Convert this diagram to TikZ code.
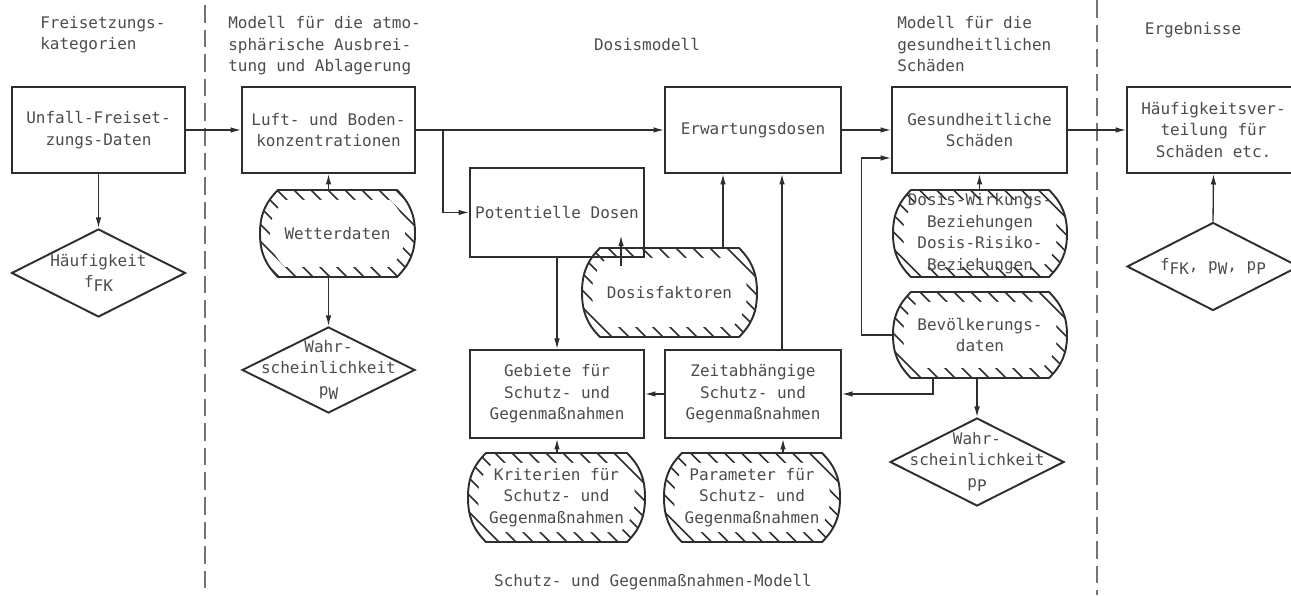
\documentclass[tikz,border=0pt]{standalone}
\usepackage{fontspec}
\newfontfamily\tw{DejaVu Sans Mono}
\usetikzlibrary{shapes.geometric,arrows.meta,calc}
\definecolor{lc}{gray}{0.18}
\definecolor{tc}{gray}{0.30}
\newcommand\sbs[1]{\raisebox{-0.5ex}{#1}}
\tikzset{
 hl/.style={draw=lc, line width=0.9pt},
 ol/.style={draw=lc, line width=1.1pt},
 pics/dshape/.style n args={2}{code={
  \begin{scope}
   \clip ({-#1+18},{#2}) -- ({#1-18},{#2}) to[out=-45,in=90] ({#1},0) to[out=-90,in=45] ({#1-18},{-#2}) -- ({-#1+18},{-#2}) to[out=135,in=-90] ({-#1},0) to[out=90,in=-135] cycle;
   \foreach \c in {-153,-136,...,153} \draw[hl] ({\c-120},120) -- ({\c+120},-120);
   \fill[white] ({-#1+25},{#2-10}) -- ({#1-25},{#2-10}) to[out=-45,in=90] ({#1-10},0) to[out=-90,in=45] ({#1-25},{-#2+10}) -- ({-#1+25},{-#2+10}) to[out=135,in=-90] ({-#1+10},0) to[out=90,in=-135] cycle;
  \end{scope}
  \draw[ol] ({-#1+18},{#2}) -- ({#1-18},{#2}) to[out=-45,in=90] ({#1},0) to[out=-90,in=45] ({#1-18},{-#2}) -- ({-#1+18},{-#2}) to[out=135,in=-90] ({-#1},0) to[out=90,in=-135] cycle;
 }}
}
\begin{document}
\begin{tikzpicture}[x=0.02cm,y=0.02cm,
 txt/.style={font={\tw\fontsize{9.1pt}{12.2pt}\selectfont}, text=tc},
 box/.style={rectangle, draw=lc, line width=1.1pt, inner sep=0pt, align=center, txt},
 dnode/.style={rectangle, inner sep=0pt, align=center, txt},
 dia/.style={diamond, draw=lc, line width=1.1pt, inner sep=0pt},
 hdr/.style={txt, inner sep=0pt, align=left},
 ln/.style={draw=lc, line width=0.75pt},
 arr/.style={ln, -{Latex[length=6pt,width=3.2pt]}},
 sep/.style={draw=black!55, line width=0.6pt, dash pattern=on 10pt off 4pt},
 lab/.style={txt, align=center}
]
\useasboundingbox (0,0) rectangle (1291,595);
\clip (0,0) rectangle (1291,595);

% separators
\draw[sep] (205,590) -- (205,0);
\draw[sep] (1097,595) -- (1097,0);

% headers
\node[hdr, anchor=north west] (h1) at (40,579) {Freisetzungs-\\kategorien};
\node[hdr, anchor=north west] (h2) at (228,579) {Modell für die atmo-\\sphärische Ausbrei-\\tung und Ablagerung};
\node[txt] (h3) at (647,550) {Dosismodell};
\node[hdr, anchor=north west] (h4) at (897,579) {Modell für die\\gesundheitlichen\\Schäden};
\node[txt] (h5) at (1193,565) {Ergebnisse};
\node[txt] (h6) at (653,13) {Schutz- und Gegenmaßnahmen-Modell};

% hatched data shapes
\pic at (337.5,361.5) {dshape={77.5}{43.5}};
\pic at (669.5,302.5) {dshape={87.5}{44.5}};
\pic at (980,361.5) {dshape={87}{43.5}};
\pic at (980,260) {dshape={87}{43}};
\pic at (556.5,97.5) {dshape={88.5}{44.5}};
\pic at (752,97.5) {dshape={88}{44.5}};

\node[dnode, minimum width=3.10cm, minimum height=1.74cm] (wet) at (337.5,361.5) {Wetterdaten};
\node[dnode, minimum width=3.50cm, minimum height=1.78cm] (dosf) at (669.5,302.5) {Dosisfaktoren};
\node[dnode, minimum width=3.48cm, minimum height=1.74cm] (dw) at (980,361.5) {Dosis-Wirkungs-\\Beziehungen\\Dosis-Risiko-\\Beziehungen};
\node[dnode, minimum width=3.48cm, minimum height=1.72cm] (bev) at (980,260) {Bevölkerungs-\\daten};
\node[dnode, minimum width=3.54cm, minimum height=1.78cm] (krit) at (556.5,97.5) {Kriterien für\\Schutz- und\\Gegenmaßnahmen};
\node[dnode, minimum width=3.52cm, minimum height=1.78cm] (par) at (752,97.5) {Parameter für\\Schutz- und\\Gegenmaßnahmen};

% boxes
\node[box, minimum width=3.46cm, minimum height=1.72cm] (unf) at (98.5,465) {Unfall-Freiset-\\zungs-Daten};
\node[box, minimum width=3.46cm, minimum height=1.72cm] (luft) at (328.5,465) {Luft- und Boden-\\konzentrationen};
\node[box, minimum width=3.52cm, minimum height=1.72cm] (erw) at (753,465) {Erwartungsdosen};
\node[box, minimum width=3.50cm, minimum height=1.72cm] (ges) at (979.5,465) {Gesundheitliche\\Schäden};
\node[box, minimum width=3.46cm, minimum height=1.72cm] (hv) at (1213.5,465) {Häufigkeitsver-\\teilung für\\Schäden etc.};
\node[box, minimum width=3.48cm, minimum height=1.78cm] (pot) at (557,382.5) {Potentielle Dosen};
\node[box, minimum width=3.48cm, minimum height=1.76cm] (geb) at (557,201) {Gebiete für\\Schutz- und\\Gegenmaßnahmen};
\node[box, minimum width=3.52cm, minimum height=1.76cm] (zeit) at (753,201) {Zeitabhängige\\Schutz- und\\Gegenmaßnahmen};

% diamonds
\node[dia, minimum width=3.48cm, minimum height=1.76cm, label={[lab]center:{Häufigkeit\\f\sbs{FK}}}] (dfk) at (98.5,322) {};
\node[dia, minimum width=3.46cm, minimum height=1.72cm, label={[lab]center:{Wahr-\\scheinlichkeit\\p\sbs{W}}}] (dpw) at (328.5,225) {};
\node[dia, minimum width=3.48cm, minimum height=1.76cm, label={[lab]center:{Wahr-\\scheinlichkeit\\p\sbs{P}}}] (dpp) at (977,133) {};
\node[dia, minimum width=3.44cm, minimum height=1.76cm, label={[lab]center:{f\sbs{FK}, p\sbs{W}, p\sbs{P}}}] (dres) at (1213,328.5) {};

% helper coordinates
\coordinate (br1) at ($(luft.east)+(27,0)$);
\coordinate (d1) at ($(dosf.north)+(53.5,0)$);
\coordinate (d2) at ($(dosf.north)+(-48.5,-18)$);
\coordinate (z1) at ($(zeit.north)+(29,0)$);
\coordinate (p1) at ($(zeit.south)+(30,0)$);
\coordinate (g1) at ($(ges.west)+(0,-28)$);
\coordinate (b1) at ($(bev.south)+(-47,0)$);

% connectors
\draw[arr] (unf.east) -- (luft.west);
\draw[arr] (luft.east) -- (erw.west);
\draw[arr] (erw.east) -- (ges.west);
\draw[arr] (ges.east) -- (hv.west);
\draw[arr] (br1) |- (pot.west);
\draw[arr] (unf.south) -- (dfk.north);
\draw[arr] (luft.south |- wet.north) -- (luft.south);
\draw[arr] (luft.south |- wet.south) -- (dpw.north);
\draw[arr] (d1) -- (d1 |- erw.south);
\draw[arr] (d2) -- ++(0,30);
\draw[arr] (z1) -- (z1 |- erw.south);
\draw[arr] (pot.south) -- (geb.north);
\draw[arr] (zeit.west) -- (geb.east);
\draw[arr] (geb.south |- krit.north) -- (geb.south);
\draw[arr] (p1 |- par.north) -- (p1);
\draw[arr] (ges.south |- dw.north) -- (ges.south);
\draw[arr] (bev.west) -- ++(-31,0) |- (g1);
\draw[arr] (b1) |- (zeit.east);
\draw[arr] (dpp.north |- bev.south) -- (dpp.north);
\draw[arr] (dres.north) -- (hv.south);
\end{tikzpicture}
\end{document}
